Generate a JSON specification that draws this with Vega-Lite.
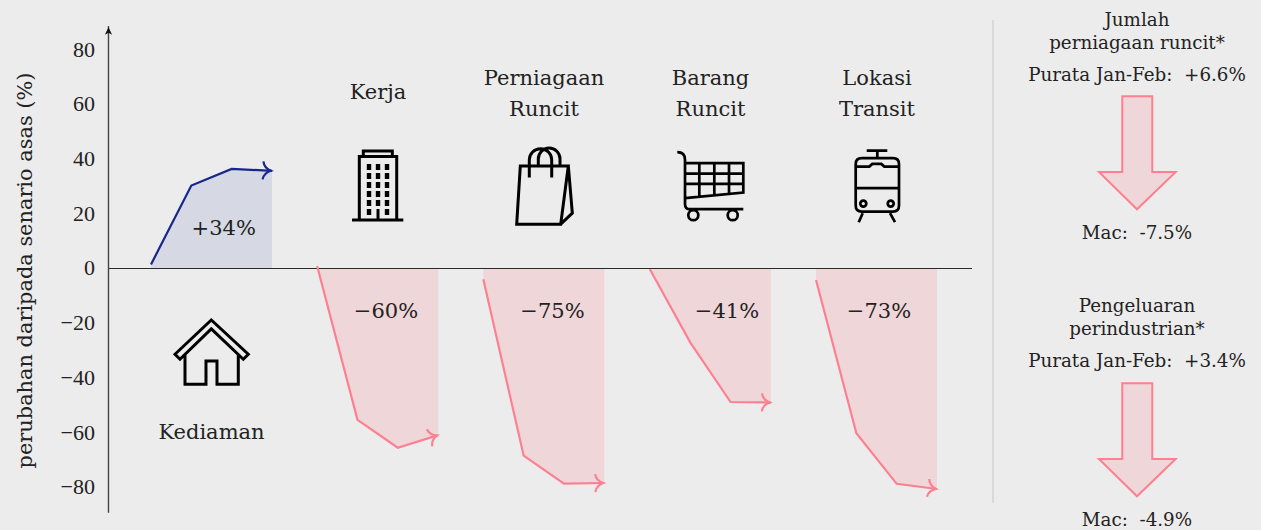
{
"$schema":"https://vega.github.io/schema/vega-lite/v6.json",
"autosize":{"type":"fit","contains":"padding"},
"width":1261,"height":530,"padding":0,
"background":"#ececec",
"config":{"view":{"stroke":null}},
"datasets":{
"series":[
{"panel":"Kediaman","dir":"naik","step":0,"u":0,"v":1.5},{"panel":"Kediaman","dir":"naik","step":1,"u":1,"v":30.3},{"panel":"Kediaman","dir":"naik","step":2,"u":2,"v":36.4},{"panel":"Kediaman","dir":"naik","step":3,"u":3,"v":35.7},
{"panel":"Kerja","dir":"turun","step":0,"u":4.12,"v":0.9},{"panel":"Kerja","dir":"turun","step":1,"u":5.12,"v":-55.3},{"panel":"Kerja","dir":"turun","step":2,"u":6.12,"v":-65.5},{"panel":"Kerja","dir":"turun","step":3,"u":7.12,"v":-60.9},
{"panel":"Perniagaan Runcit","dir":"turun","step":0,"u":8.24,"v":-3.9},{"panel":"Perniagaan Runcit","dir":"turun","step":1,"u":9.24,"v":-68.4},{"panel":"Perniagaan Runcit","dir":"turun","step":2,"u":10.24,"v":-78.6},{"panel":"Perniagaan Runcit","dir":"turun","step":3,"u":11.24,"v":-78.4},
{"panel":"Barang Runcit","dir":"turun","step":0,"u":12.37,"v":-0.3},{"panel":"Barang Runcit","dir":"turun","step":1,"u":13.37,"v":-27},{"panel":"Barang Runcit","dir":"turun","step":2,"u":14.37,"v":-48.8},{"panel":"Barang Runcit","dir":"turun","step":3,"u":15.37,"v":-49},
{"panel":"Lokasi Transit","dir":"turun","step":0,"u":16.49,"v":-4.2},{"panel":"Lokasi Transit","dir":"turun","step":1,"u":17.49,"v":-60.2},{"panel":"Lokasi Transit","dir":"turun","step":2,"u":18.49,"v":-78.7},{"panel":"Lokasi Transit","dir":"turun","step":3,"u":19.49,"v":-80.6}
],
"big":[
{"t":"+34%","u":1.803,"v":14.5},{"t":"Kerja","u":5.629,"v":64.2},{"t":"Perniagaan","u":9.745,"v":69.3},{"t":"Runcit","u":9.745,"v":58},{"t":"Barang","u":13.873,"v":69.3},{"t":"Runcit","u":13.873,"v":58},{"t":"Lokasi","u":18.001,"v":69.3},{"t":"Transit","u":18.001,"v":58},{"t":"Kediaman","u":1.5,"v":-60.1},{"t":"−60%","u":5.827,"v":-15.8},{"t":"−75%","u":9.955,"v":-15.8},{"t":"−41%","u":14.282,"v":-15.8},{"t":"−73%","u":18.051,"v":-15.8}
],
"small":[
{"t":"Jumlah","u":24.448,"v":90.5},{"t":"perniagaan runcit*","u":24.448,"v":82.1},{"t":"Purata Jan-Feb:\u00a0\u00a0+6.6%","u":24.448,"v":70.4},{"t":"Mac:\u00a0\u00a0-7.5%","u":24.448,"v":12.7},{"t":"Pengeluaran","u":24.448,"v":-14},{"t":"perindustrian*","u":24.448,"v":-22.4},{"t":"Purata Jan-Feb:\u00a0\u00a0+3.4%","u":24.448,"v":-34.1},{"t":"Mac:\u00a0\u00a0-4.9%","u":24.448,"v":-92.2}
],
"icons":[
{"icon":"rumah","u":1.5,"v":-30.5},{"icon":"bangunan","u":5.629,"v":30.2},{"icon":"beg","u":9.745,"v":30.2},{"icon":"troli","u":13.861,"v":30.2},{"icon":"kereta","u":18.009,"v":30.2}
],
"arrows":[{"u":24.448,"v":43.3},{"u":24.448,"v":-61.6}]
},
"encoding":{
"x":{"field":"u","type":"quantitative","axis":null,"scale":{"domain":[-3.744,27.523],"nice":false,"zero":false}},
"y":{"field":"v","type":"quantitative","scale":{"domain":[-95.58,98.14],"nice":false,"zero":false},
"axis":{"values":[-80,-60,-40,-20,0,20,40,60,80],"offset":-108.5,"domain":false,"ticks":false,"grid":false,"labelPadding":14,"labelOffset":-0.6,"labelFont":"Liberation Serif","labelFontSize":22,"labelColor":"#222222","title":"perubahan daripada senario asas (%)","titleFont":"DejaVu Serif","titleFontSize":20.9,"titleFontWeight":"normal","titleColor":"#222222","titleX":-83.5,"titleY":270,"titleAngle":270,"titleAlign":"center","titleBaseline":"middle"}}
},
"layer":[
{"data":{"name":"series"},"mark":{"type":"area","opacity":1},"encoding":{"y2":{"datum":0},"detail":{"field":"panel"},"fill":{"field":"dir","type":"nominal","legend":null,"scale":{"domain":["naik","turun"],"range":["#d6d9e3","#efd6d9"]}}}},
{"data":{"values":[{"u":-1.054,"u2":20.357,"v":0}]},"mark":{"type":"rule","color":"#2a2a2a","strokeWidth":1.2},"encoding":{"x2":{"field":"u2"}}},
{"data":{"values":[{"u":-1.054,"v":88.6,"v2":-89.3}]},"mark":{"type":"rule","color":"#444444","strokeWidth":1.4},"encoding":{"y2":{"field":"v2"}}},
{"data":{"values":[{"u":-1.054,"v":86.5}]},"mark":{"type":"point","shape":"M0 -4.5 L3.6 3 L0 1 L-3.6 3 Z","size":4,"filled":true,"color":"#111111","opacity":1}},
{"data":{"values":[{"u":20.878,"v":90.8,"v2":-85.7}]},"mark":{"type":"rule","color":"#cccccc","strokeWidth":1.2},"encoding":{"y2":{"field":"v2"}}},
{"data":{"name":"series"},"mark":{"type":"line","strokeWidth":2.2},"encoding":{"detail":{"field":"panel"},"order":{"field":"step"},"stroke":{"field":"dir","type":"nominal","legend":null,"scale":{"domain":["naik","turun"],"range":["#17288a","#fd8090"]}}}},
{"data":{"name":"series"},
"transform":[{"window":[{"op":"lag","field":"u","as":"pu"},{"op":"lag","field":"v","as":"pv"}],"groupby":["panel"],"sort":[{"field":"step"}]},{"filter":"datum.step==3"},{"calculate":"atan2(-(datum.v-datum.pv)*2.736,(datum.u-datum.pu)*40.33)*180/PI","as":"ang"}],
"mark":{"type":"point","shape":"M-9 -9 Q-8 -2.5 -1.2 0 Q-8 2.5 -9 9","size":4,"filled":false,"strokeWidth":2.2,"opacity":1},
"encoding":{"angle":{"field":"ang","type":"quantitative","scale":null},"stroke":{"field":"dir","type":"nominal","legend":null,"scale":{"domain":["naik","turun"],"range":["#17288a","#fd8090"]}}}},
{"data":{"name":"big"},"mark":{"type":"text","font":"DejaVu Serif","fontSize":21,"color":"#222222","align":"center","baseline":"middle"},"encoding":{"text":{"field":"t"}}},
{"data":{"name":"small"},"mark":{"type":"text","font":"DejaVu Serif","fontSize":18.3,"color":"#222222","align":"center","baseline":"middle"},"encoding":{"text":{"field":"t"}}},
{"data":{"name":"arrows"},"mark":{"type":"point","shape":"M-14.7 -53.7 H15.3 V22 H38.7 L0 59.3 L-38 22 H-14.7 Z","size":4,"filled":true,"fill":"#efd6d9","stroke":"#fd8090","strokeWidth":2,"opacity":1}},
{"data":{"name":"icons"},"transform":[{"filter":"datum.icon=='rumah'"}],"mark":{"type":"point","shape":"M-36.5 2.3 L-0.2 -32 L36.8 2.3 L31.8 7.3 L-0.2 -23 L-31.5 7.3 Z M-26.5 2.5 V32.3 H-5.5 V9 H5.5 V32.3 H26.8 V2.5","size":4,"filled":false,"stroke":"#000000","strokeWidth":3,"opacity":1}},
{"data":{"name":"icons"},"transform":[{"filter":"datum.icon=='bangunan'"}],"mark":{"type":"point","shape":"M-26 34 H25.3 M-18.7 34 V-29.3 H18.7 V34 M-14.7 -30 V-35 H14.3 V-30 M0 23 V33","size":4,"filled":false,"stroke":"#000000","strokeWidth":3,"opacity":1}},
{"data":{"name":"icons"},"transform":[{"filter":"datum.icon=='bangunan'"}],"mark":{"type":"point","shape":"M-11.2 -22 h4.4 v6 h-4.4 Z M-2.2 -22 h4.4 v6 h-4.4 Z M6.8 -22 h4.4 v6 h-4.4 Z M-11.2 -13 h4.4 v6 h-4.4 Z M-2.2 -13 h4.4 v6 h-4.4 Z M6.8 -13 h4.4 v6 h-4.4 Z M-11.2 -4 h4.4 v6 h-4.4 Z M-2.2 -4 h4.4 v6 h-4.4 Z M6.8 -4 h4.4 v6 h-4.4 Z M-11.2 5 h4.4 v6 h-4.4 Z M-2.2 5 h4.4 v6 h-4.4 Z M6.8 5 h4.4 v6 h-4.4 Z M-11.2 14 h4.4 v6 h-4.4 Z M-2.2 14 h4.4 v6 h-4.4 Z M6.8 14 h4.4 v6 h-4.4 Z M-11.2 23 h4.4 v6 h-4.4 Z M6.8 23 h4.4 v6 h-4.4 Z","size":4,"filled":true,"color":"#000000","opacity":1}},
{"data":{"name":"icons"},"transform":[{"filter":"datum.icon=='beg'"}],"mark":{"type":"point","shape":"M-23.7 -20 H24.3 L16.7 38.3 H-27.3 Z M24.3 -20 L28.3 27.3 L16.7 38.3 M-14.7 -8.3 V-26 A11.2 11.2 0 0 1 7.7 -26 V-8.3 M-5.7 -21 V-27 A10.8 10.8 0 0 1 16 -27 V-21","size":4,"filled":false,"stroke":"#000000","strokeWidth":3,"opacity":1}},
{"data":{"name":"icons"},"transform":[{"filter":"datum.icon=='troli'"}],"mark":{"type":"point","shape":"M-32.7 -33.7 Q-25 -33.7 -25 -26 V18 Q-25 23.3 -20 23.3 H33.3 M-25 -22.7 H33.3 V6.7 L-25 12.3 M-25 -12.3 H33.3 M-25 -2 H33.3 M-10.7 -22.7 V10.9 M4.3 -22.7 V9.4 M19 -22.7 V8 M-21.7 29.3 A5 5 0 1 0 -11.7 29.3 A5 5 0 1 0 -21.7 29.3 Z M17.7 29.3 A5 5 0 1 0 27.7 29.3 A5 5 0 1 0 17.7 29.3 Z","size":4,"filled":false,"stroke":"#000000","strokeWidth":2.7,"opacity":1}},
{"data":{"name":"icons"},"transform":[{"filter":"datum.icon=='kereta'"}],"mark":{"type":"point","shape":"M-15.6 -27.7 H15.7 Q21.7 -27.7 21.7 -21.7 V19.7 Q21.7 25.7 15.7 25.7 H-15.6 Q-21.6 25.7 -21.6 19.7 V-21.7 Q-21.6 -27.7 -15.6 -27.7 Z M-10.6 -35.3 H10 M0 -35.3 V-27.7 M-21.6 -19.3 H-8 L-5 -22 H4 L7 -19.3 H21.7 M-21.6 2.3 H21.7 M-17 17.7 A3 3 0 1 0 -11 17.7 A3 3 0 1 0 -17 17.7 Z M10.4 17.7 A3 3 0 1 0 16.4 17.7 A3 3 0 1 0 10.4 17.7 Z M-14.6 27.3 L-18.6 36.3 M12.7 27.3 L17.7 36.3","size":4,"filled":false,"stroke":"#000000","strokeWidth":2.7,"opacity":1}}
]
}
